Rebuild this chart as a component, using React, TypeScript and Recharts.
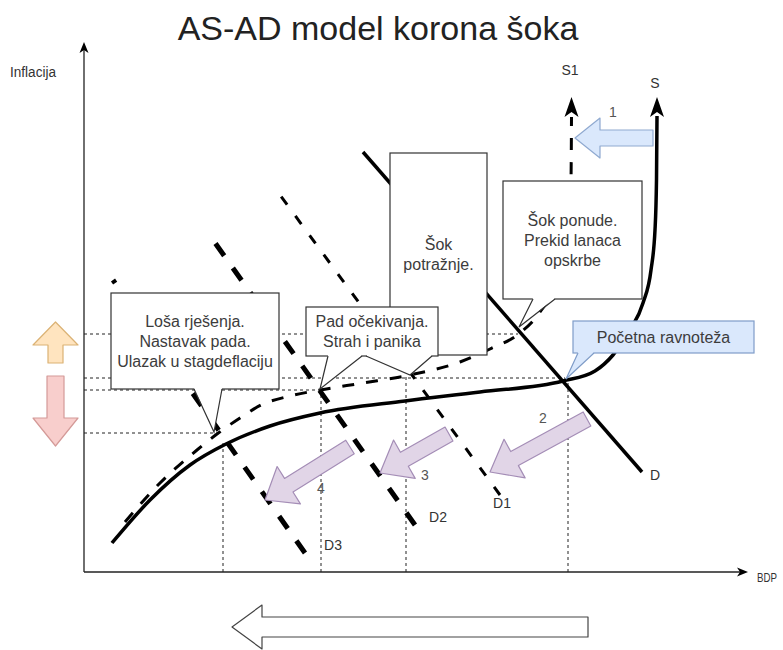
import React from 'react';
import { ComposedChart, Line, XAxis, YAxis, ReferenceLine, ReferenceArea } from 'recharts';

const WIDTH = 783;
const HEIGHT = 650;
const X_MAX = 136; // BDP
const Y_MAX = 106; // inflacija
const X_AXIS_END = 132.8;
const FONT = '"Liberation Sans", Arial, sans-serif';

// AS krivulja prije šoka (S) i nakon šoka ponude (S1)
const sCurve = [
  { x: 5.6, y: 5.8 }, { x: 13.2, y: 14.4 }, { x: 21.2, y: 21.4 }, { x: 28.4, y: 25.6 },
  { x: 37.2, y: 29.2 }, { x: 47.2, y: 31.8 }, { x: 64.2, y: 34.2 }, { x: 79.2, y: 36 },
  { x: 95.8, y: 38.2 }, { x: 102.2, y: 40.2 }, { x: 105.8, y: 43.4 }, { x: 109.2, y: 48.4 },
  { x: 111.8, y: 53.8 }, { x: 113.4, y: 60.4 }, { x: 114.2, y: 68.4 }, { x: 114.5, y: 78.4 },
  { x: 114.6, y: 91.2 },
];
const s1Curve = [
  { x: 8.2, y: 10 }, { x: 15.2, y: 17.8 }, { x: 22.6, y: 24.4 }, { x: 26.6, y: 27.6 },
  { x: 31.2, y: 30.8 }, { x: 35.4, y: 33.4 }, { x: 41.2, y: 35.2 }, { x: 47.2, y: 36.4 },
  { x: 55.8, y: 37.8 }, { x: 65.2, y: 39.4 }, { x: 75.2, y: 42 }, { x: 81.2, y: 44.6 },
  { x: 87.2, y: 47.8 }, { x: 91.2, y: 52 }, { x: 94.2, y: 57.4 }, { x: 96, y: 64.4 },
  { x: 97, y: 71.4 }, { x: 97.4, y: 78.4 }, { x: 97.5, y: 91 },
];

// AD krivulje (od donjeg kraja prema gornjem)
const dLine = [{ x: 111.6, y: 20 }, { x: 55.8, y: 84 }];
const d1Line = [{ x: 83.2, y: 15.4 }, { x: 39.2, y: 75.4 }];
const d2Line = [{ x: 66.2, y: 9.4 }, { x: 25.8, y: 66.4 }];
const d3Line = [{ x: 44.2, y: 3.8 }, { x: 5.8, y: 58.4 }];

// točkaste pomoćne linije do sjecišta
const guideH = [
  { x: 86.8, y: 47.6 }, { x: 96.2, y: 38.8 }, { x: 47.2, y: 36.4 }, { x: 26.6, y: 27.8 },
];
const guideV = [
  { x: 27.8, y: 25.8 }, { x: 47.4, y: 36.4 }, { x: 64.4, y: 39.2 }, { x: 96.8, y: 38.4 },
];

// oblačići s tekstom
const callouts = [
  { kind: 'plain', lines: ['Šok', 'potražnje.'], x1: 61.2, x2: 80.6, y1: 43.4, y2: 83.8, pointers: [] },
  {
    kind: 'plain', lines: ['Loša rješenja.', 'Nastavak pada.', 'Ulazak u stagdeflaciju'],
    x1: 5.4, x2: 39, y1: 36.6, y2: 55.8, pointers: [{ b1: 22, b2: 27.6, tip: [26, 28] }],
  },
  {
    kind: 'plain', lines: ['Pad očekivanja.', 'Strah i panika'], x1: 44.4, x2: 70.8, y1: 43.2, y2: 53,
    pointers: [{ b1: 48.8, b2: 55.6, tip: [47.2, 36.6] }, { b1: 56.4, b2: 69.6, tip: [65.2, 39.4] }],
  },
  {
    kind: 'plain', lines: ['Šok ponude.', 'Prekid lanaca', 'opskrbe'], x1: 83.8, x2: 111.6, y1: 54.6, y2: 78.2,
    pointers: [{ b1: 89.8, b2: 94.2, tip: [87, 49] }],
  },
  {
    kind: 'blue', lines: ['Početna ravnoteža'], x1: 97.8, x2: 134, y1: 43.8, y2: 50.2,
    pointers: [{ b1: 98.8, b2: 102, tip: [96.4, 38.6] }],
  },
];

// blok strelice (rep -> vrh)
const blockArrows = [
  { kind: 'supply', from: [113.8, 86.8], to: [98.2, 86.8] },
  { kind: 'demand', from: [100.6, 30.6], to: [81.2, 20] },
  { kind: 'demand', from: [73, 27.6], to: [59.2, 19.8] },
  { kind: 'demand', from: [53.2, 25], to: [36.2, 14.4] },
  { kind: 'up', from: [-5.7, 41.8], to: [-5.7, 50] },
  { kind: 'down', from: [-5.7, 39.2], to: [-5.7, 25.2] },
  { kind: 'output', from: [100.8, -11], to: [29.6, -11] },
];

const curveLabels = [
  { text: 'S', x: 114.2, y: 97.8 }, { text: 'S1', x: 97.2, y: 100.4 },
  { text: 'D', x: 114.2, y: 19.4 }, { text: 'D1', x: 83.6, y: 13.8 },
  { text: 'D2', x: 70.8, y: 11 }, { text: 'D3', x: 49.8, y: 5.4 },
];
const stepLabels = [
  { text: '1', x: 105.8, y: 92 }, { text: '2', x: 91.8, y: 30.8 },
  { text: '3', x: 68.2, y: 19.4 }, { text: '4', x: 47.4, y: 16.8 },
];
const curveTops = [{ x: 114.6, y: 95 }, { x: 97.5, y: 95 }];

const ARROW_STYLE: Record<string, any> = {
  supply: { fill: '#dae8fc', stroke: '#8fa9d0', shaft: 16, head: 40, headLen: 25 },
  demand: { fill: '#e1d5e7', stroke: '#a48db6', shaft: 16, head: 44, headLen: 28 },
  up: { fill: '#ffe4bf', stroke: '#dbb274', shaft: 15, head: 45, headLen: 23 },
  down: { fill: '#f8cecc', stroke: '#d49a98', shaft: 17, head: 45, headLen: 28 },
  output: { fill: '#ffffff', stroke: '#444444', shaft: 20, head: 44, headLen: 30 },
};
const BOX_STYLE: Record<string, any> = {
  plain: { fill: '#ffffff', stroke: '#333333' },
  blue: { fill: '#dae8fc', stroke: '#7f9cc8' },
};

const blockArrowPoints = (tx: number, ty: number, px: number, py: number, s: any) => {
  const len = Math.hypot(px - tx, py - ty);
  const ux = (px - tx) / len, uy = (py - ty) / len;
  const nx = -uy, ny = ux;
  const bx = px - ux * s.headLen, by = py - uy * s.headLen;
  const pts = [
    [tx + nx * s.shaft / 2, ty + ny * s.shaft / 2],
    [bx + nx * s.shaft / 2, by + ny * s.shaft / 2],
    [bx + nx * s.head / 2, by + ny * s.head / 2],
    [px, py],
    [bx - nx * s.head / 2, by - ny * s.head / 2],
    [bx - nx * s.shaft / 2, by - ny * s.shaft / 2],
    [tx - nx * s.shaft / 2, ty - ny * s.shaft / 2],
  ];
  return pts.map((p) => p.join(',')).join(' ');
};

const headPoints = (x: number, y: number, dx: number, dy: number, len: number, half: number, notch: number) => {
  const nx = -dy, ny = dx;
  const pts = [
    [x, y],
    [x - dx * len + nx * half, y - dy * len + ny * half],
    [x - dx * (len - notch), y - dy * (len - notch)],
    [x - dx * len - nx * half, y - dy * len - ny * half],
  ];
  return pts.map((p) => p.join(',')).join(' ');
};

const Overlay = ({ x, y, width, height }: any) => {
  const sx = (v: number) => x + (v / X_MAX) * width;
  const sy = (v: number) => y + height - (v / Y_MAX) * height;
  return (
    <g>
      {callouts.map((c, ci) => {
        const st = BOX_STYLE[c.kind];
        const left = sx(c.x1), right = sx(c.x2), top = sy(c.y2), bottom = sy(c.y1);
        const cx = (left + right) / 2, cy = (top + bottom) / 2;
        const n = c.lines.length;
        return (
          <g key={ci}>
            <rect x={left} y={top} width={right - left} height={bottom - top} fill={st.fill} stroke={st.stroke} strokeWidth={1.2} />
            {c.pointers.map((p, i) => {
              const a = sx(p.b1), b = sx(p.b2), tx = sx(p.tip[0]), ty = sy(p.tip[1]);
              return (
                <g key={i}>
                  <polygon points={`${a},${bottom - 1} ${tx},${ty} ${b},${bottom - 1}`} fill={st.fill} />
                  <line x1={a + 1} y1={bottom} x2={b - 1} y2={bottom} stroke={st.fill} strokeWidth={2.5} />
                  <polyline points={`${a},${bottom} ${tx},${ty} ${b},${bottom}`} fill="none" stroke={st.stroke} strokeWidth={1.2} />
                </g>
              );
            })}
            {c.lines.map((t, i) => (
              <text key={i} x={cx} y={cy + (i - (n - 1) / 2) * 20 + 5.5} textAnchor="middle" fontSize={16} fill="#3c3c3c" fontFamily={FONT}>
                {t}
              </text>
            ))}
          </g>
        );
      })}
      {blockArrows.map((a, i) => {
        const s = ARROW_STYLE[a.kind];
        return (
          <polygon key={i} points={blockArrowPoints(sx(a.from[0]), sy(a.from[1]), sx(a.to[0]), sy(a.to[1]), s)}
            fill={s.fill} stroke={s.stroke} strokeWidth={1.2} strokeLinejoin="round" />
        );
      })}
      {curveTops.map((t, i) => (
        <polygon key={i} points={headPoints(sx(t.x), sy(t.y), 0, -1, 20, 7, 5)} fill="#000" />
      ))}
      <polygon points={headPoints(sx(0), sy(Y_MAX), 0, -1, 11, 4.5, 3)} fill="#000" />
      <polygon points={headPoints(sx(X_AXIS_END), sy(0), 1, 0, 11, 4.5, 3)} fill="#000" />
      {curveLabels.map((l, i) => (
        <text key={i} x={sx(l.x)} y={sy(l.y)} textAnchor="middle" dominantBaseline="central" fontSize={14} fill="#333" fontFamily={FONT}>
          {l.text}
        </text>
      ))}
      {stepLabels.map((l, i) => (
        <text key={i} x={sx(l.x)} y={sy(l.y)} textAnchor="middle" dominantBaseline="central" fontSize={14} fill="#555" fontFamily={FONT}>
          {l.text}
        </text>
      ))}
      <text x={sx(-10.2)} y={sy(100)} textAnchor="middle" dominantBaseline="central" fontSize={14} fill="#333" fontFamily={FONT}
        textLength={46} lengthAdjust="spacingAndGlyphs">Inflacija</text>
      <text x={sx(X_AXIS_END) + 9} y={sy(-1)} textAnchor="start" dominantBaseline="central" fontSize={13} fill="#333" fontFamily={FONT}
        textLength={20} lengthAdjust="spacingAndGlyphs">BDP</text>
    </g>
  );
};

export default function App() {
  return (
    <div style={{ position: 'absolute', left: 0, top: 0, width: WIDTH, height: HEIGHT, background: '#fff', fontFamily: FONT }}>
      <ComposedChart width={WIDTH} height={HEIGHT} margin={{ top: 42, right: 19, bottom: 78, left: 84 }}>
        <XAxis dataKey="x" type="number" domain={[0, X_MAX]} allowDataOverflow hide />
        <YAxis type="number" domain={[0, Y_MAX]} allowDataOverflow hide />
        <ReferenceLine segment={[{ x: 0, y: 0 }, { x: X_AXIS_END - 1, y: 0 }]} stroke="#222" strokeWidth={1.3} />
        <ReferenceLine segment={[{ x: 0, y: 0 }, { x: 0, y: Y_MAX - 1 }]} stroke="#222" strokeWidth={1.3} />
        {guideH.map((g, i) => (
          <ReferenceLine key={`h${i}`} segment={[{ x: 0, y: g.y }, { x: g.x, y: g.y }]} stroke="#222" strokeWidth={1} strokeDasharray="3 3" />
        ))}
        {guideV.map((g, i) => (
          <ReferenceLine key={`v${i}`} segment={[{ x: g.x, y: 0 }, { x: g.x, y: g.y }]} stroke="#222" strokeWidth={1} strokeDasharray="3 3" />
        ))}
        <Line data={sCurve} dataKey="y" type="monotone" stroke="#000" strokeWidth={3.5} dot={false} activeDot={false} isAnimationActive={false} />
        <Line data={s1Curve} dataKey="y" type="monotone" stroke="#000" strokeWidth={3} strokeDasharray="12 12" dot={false} activeDot={false} isAnimationActive={false} />
        <Line data={dLine} dataKey="y" type="linear" stroke="#000" strokeWidth={3.5} dot={false} activeDot={false} isAnimationActive={false} />
        <Line data={d1Line} dataKey="y" type="linear" stroke="#000" strokeWidth={3} strokeDasharray="10 14" dot={false} activeDot={false} isAnimationActive={false} />
        <Line data={d2Line} dataKey="y" type="linear" stroke="#000" strokeWidth={5} strokeDasharray="15 15" dot={false} activeDot={false} isAnimationActive={false} />
        <Line data={d3Line} dataKey="y" type="linear" stroke="#000" strokeWidth={5} strokeDasharray="15 15" dot={false} activeDot={false} isAnimationActive={false} />
        <ReferenceArea x1={0} x2={X_MAX} y1={0} y2={Y_MAX} ifOverflow="visible" zIndex={1500}
          shape={(p: any) => <Overlay {...p} />} />
      </ComposedChart>
      <div style={{ position: 'absolute', left: 0, top: 9, width: 756, textAlign: 'center', fontSize: 34, color: '#222', lineHeight: 'normal' }}>
        AS-AD model korona šoka
      </div>
    </div>
  );
}
